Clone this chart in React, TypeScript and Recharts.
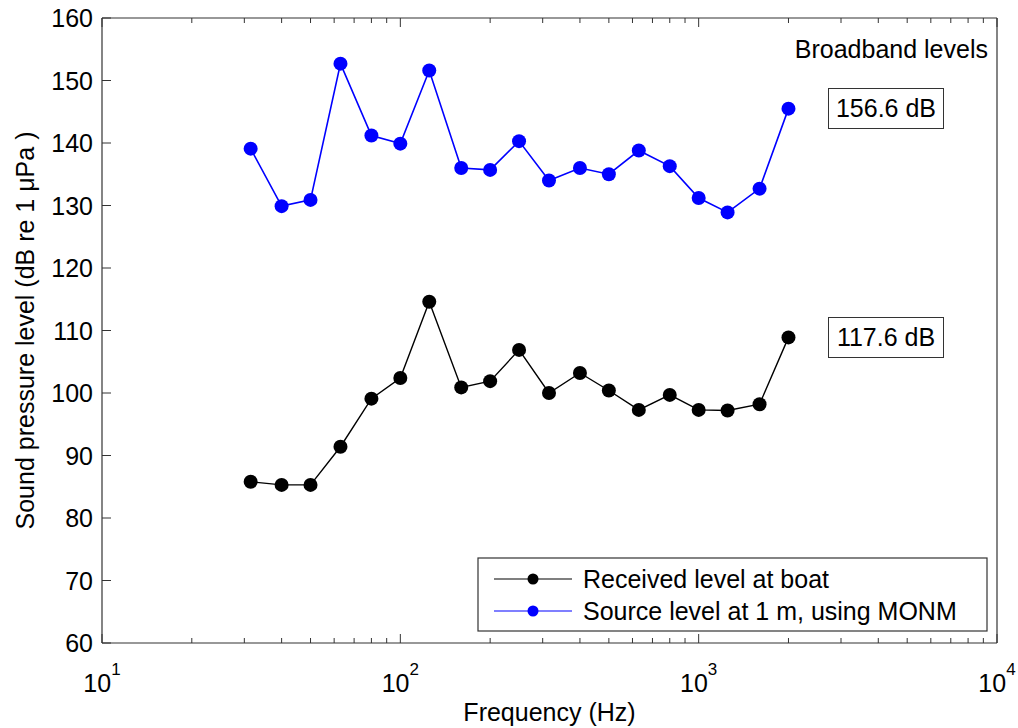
import { LineChart, Line, XAxis, YAxis } from "recharts";

const frequencies = [31.5, 40, 50, 63, 80, 100, 125, 160, 200, 250, 315, 400, 500, 630, 800, 1000, 1250, 1600, 2000];
const receivedLevel = [85.8, 85.3, 85.3, 91.4, 99.1, 102.4, 114.6, 100.9, 101.9, 106.9, 100.0, 103.2, 100.4, 97.3, 99.7, 97.3, 97.2, 98.2, 108.9];
const sourceLevel = [139.1, 129.9, 130.9, 152.7, 141.2, 139.9, 151.6, 136.0, 135.7, 140.3, 134.0, 136.0, 135.0, 138.8, 136.3, 131.2, 128.9, 132.7, 145.5];

const majorTicks = [10, 100, 1000, 10000];
const majorExponents = ["1", "2", "3", "4"];
const minorTicks = [20, 30, 40, 50, 60, 70, 80, 90, 200, 300, 400, 500, 600, 700, 800, 900, 2000, 3000, 4000, 5000, 6000, 7000, 8000, 9000];
const yTicks = [60, 70, 80, 90, 100, 110, 120, 130, 140, 150, 160];

const seriesNames = ["Received level at boat", "Source level at 1 m, using MONM"];
const seriesColors = ["#000000", "#0000ff"];
const broadbandLabels = ["156.6 dB", "117.6 dB"];

const FONT = "'Liberation Sans', Arial, Helvetica, sans-serif";
const AXIS = "#333";

const rows = frequencies.map((f, i) => ({ f, received: receivedLevel[i], source: sourceLevel[i] }));
const allXTicks = [...majorTicks, ...minorTicks].sort((a, b) => a - b);

const BottomTick = (props: any) => {
  const { x, y, payload } = props;
  const idx = majorTicks.indexOf(payload.value);
  const major = idx >= 0;
  return (
    <g>
      <line x1={x} x2={x} y1={y} y2={y - (major ? 9 : 5)} stroke={AXIS} strokeWidth={1} />
      {major && (
        <text x={x} y={y + 49} textAnchor="middle" fontSize={25} fontFamily={FONT} fill="#000">
          10
          <tspan dy={-17} fontSize={17}>{majorExponents[idx]}</tspan>
        </text>
      )}
    </g>
  );
};

const TopTick = (props: any) => {
  const { x, y, payload } = props;
  const major = majorTicks.includes(payload.value);
  return <line x1={x} x2={x} y1={y} y2={y + (major ? 9 : 5)} stroke={AXIS} strokeWidth={1} />;
};

const LeftTick = (props: any) => {
  const { x, y, payload } = props;
  return (
    <g>
      <line x1={x} x2={x + 9} y1={y} y2={y} stroke={AXIS} strokeWidth={1} />
      <text x={x - 9} y={y} dy="0.36em" textAnchor="end" fontSize={25} fontFamily={FONT} fill="#000">
        {payload.value}
      </text>
    </g>
  );
};

const RightTick = (props: any) => {
  const { x, y } = props;
  return <line x1={x} x2={x - 9} y1={y} y2={y} stroke={AXIS} strokeWidth={1} />;
};

const XTitle = (props: any) => {
  const { viewBox } = props;
  const cx = viewBox.x + viewBox.width / 2;
  return (
    <text x={cx} y={viewBox.y + 78} textAnchor="middle" fontSize={25} fontFamily={FONT} fill="#000">
      Frequency (Hz)
    </text>
  );
};

const YTitle = (props: any) => {
  const { viewBox } = props;
  const cy = viewBox.y + viewBox.height / 2;
  return (
    <text
      x={25}
      y={cy}
      dy="0.36em"
      transform={`rotate(-90, 25, ${cy})`}
      textAnchor="middle"
      fontSize={25}
      fontFamily={FONT}
      fill="#000"
    >
      Sound pressure level (dB re 1 μPa )
    </text>
  );
};

const LegendBox = () => (
  <svg width={512} height={76} style={{ position: "absolute", left: 477, top: 557 }}>
    <rect x={1} y={1} width={509} height={73} fill="#fff" stroke={AXIS} strokeWidth={1.2} />
    {seriesNames.map((name, i) => (
      <g key={name}>
        <line x1={17} x2={95} y1={22 + i * 32} y2={22 + i * 32} stroke={seriesColors[i]} strokeWidth={1.2} />
        <circle cx={56} cy={22 + i * 32} r={5.5} fill={seriesColors[i]} />
        <text x={106} y={22 + i * 32} dy="0.36em" fontSize={25} fontFamily={FONT} fill="#000">
          {name}
        </text>
      </g>
    ))}
  </svg>
);

const boxStyle = (top: number): React.CSSProperties => ({
  position: "absolute",
  left: 828,
  top,
  width: 114,
  height: 39,
  border: `1.2px solid ${AXIS}`,
  background: "#fff",
  fontFamily: FONT,
  fontSize: 25,
  lineHeight: "39px",
  textAlign: "center",
  color: "#000",
});

export default function App() {
  return (
    <div style={{ position: "absolute", left: 0, top: 0, width: 1018, height: 728, background: "#fff" }}>
      <LineChart width={1018} height={728} data={rows} margin={{ top: 17, right: 20, bottom: 45, left: 42 }}>
        <XAxis
          xAxisId="bottom"
          dataKey="f"
          type="number"
          scale="log"
          domain={[10, 10000]}
          allowDataOverflow
          ticks={allXTicks}
          interval={0}
          height={40}
          tickSize={0}
          tickMargin={0}
          tickLine={false}
          axisLine={{ stroke: AXIS, strokeWidth: 1.2 }}
          tick={<BottomTick />}
          label={<XTitle />}
        />
        <XAxis
          xAxisId="top"
          orientation="top"
          dataKey="f"
          type="number"
          scale="log"
          domain={[10, 10000]}
          allowDataOverflow
          ticks={allXTicks}
          interval={0}
          height={1}
          tickSize={0}
          tickMargin={0}
          tickLine={false}
          axisLine={{ stroke: AXIS, strokeWidth: 1.2 }}
          tick={<TopTick />}
        />
        <YAxis
          yAxisId="left"
          type="number"
          domain={[60, 160]}
          ticks={yTicks}
          interval={0}
          width={60}
          tickSize={0}
          tickMargin={0}
          tickLine={false}
          axisLine={{ stroke: AXIS, strokeWidth: 1.2 }}
          tick={<LeftTick />}
          label={<YTitle />}
        />
        <YAxis
          yAxisId="right"
          orientation="right"
          type="number"
          domain={[60, 160]}
          ticks={yTicks}
          interval={0}
          width={1}
          tickSize={0}
          tickMargin={0}
          tickLine={false}
          axisLine={{ stroke: AXIS, strokeWidth: 1.2 }}
          tick={<RightTick />}
        />
        <Line
          xAxisId="bottom"
          yAxisId="left"
          dataKey="received"
          name={seriesNames[0]}
          stroke={seriesColors[0]}
          strokeWidth={1.4}
          dot={{ r: 7, fill: seriesColors[0], stroke: seriesColors[0], strokeWidth: 0 }}
          isAnimationActive={false}
        />
        <Line
          xAxisId="bottom"
          yAxisId="left"
          dataKey="source"
          name={seriesNames[1]}
          stroke={seriesColors[1]}
          strokeWidth={1.6}
          dot={{ r: 7, fill: seriesColors[1], stroke: seriesColors[1], strokeWidth: 0 }}
          isAnimationActive={false}
        />
      </LineChart>
      <div
        style={{
          position: "absolute",
          right: 1018 - 988,
          top: 35,
          fontFamily: FONT,
          fontSize: 25,
          color: "#000",
          whiteSpace: "nowrap",
        }}
      >
        Broadband levels
      </div>
      <div style={boxStyle(88)}>{broadbandLabels[0]}</div>
      <div style={boxStyle(317)}>{broadbandLabels[1]}</div>
      <LegendBox />
    </div>
  );
}
